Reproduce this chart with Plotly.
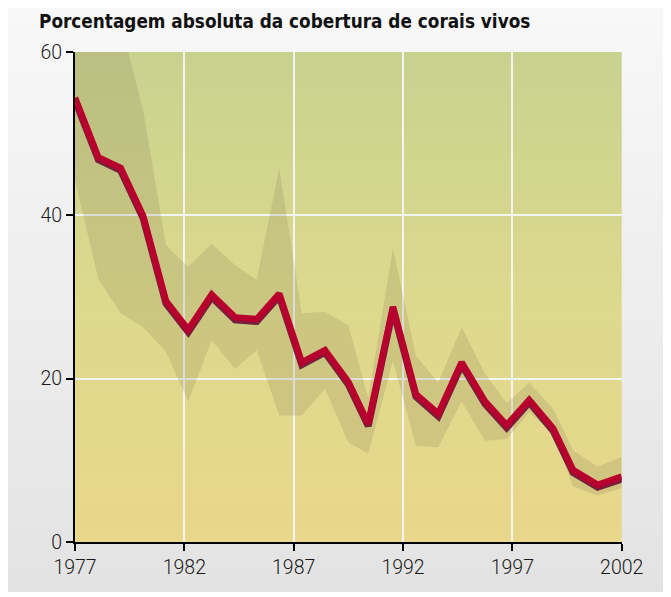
import plotly.graph_objects as go

# leituras aproximadas do gráfico original
anos = [1977.0, 1978.07, 1979.09, 1980.12, 1981.16, 1982.18, 1983.25, 1984.32,
        1985.31, 1986.34, 1987.37, 1988.43, 1989.5, 1990.41, 1991.54, 1992.59,
        1993.61, 1994.68, 1995.75, 1996.74, 1997.77, 1998.87, 1999.78, 2000.9, 2002.0]
cobertura = [54.4, 47.1, 45.8, 39.9, 29.5, 26.0, 30.3, 27.5, 27.3, 30.4, 22.0, 23.5,
             19.6, 14.5, 28.8, 18.1, 15.7, 22.0, 17.2, 14.3, 17.4, 13.9, 8.8, 7.0, 8.0]
limite_sup = [75.0, 68.0, 63.6, 52.8, 36.3, 33.7, 36.5, 33.9, 32.1, 45.8, 28.0, 28.2,
              26.5, 17.6, 36.0, 22.8, 19.5, 26.3, 20.6, 17.0, 19.5, 16.3, 11.2, 9.2, 10.4]
limite_inf = [44.3, 32.2, 28.0, 26.3, 23.3, 17.2, 24.7, 21.2, 23.5, 15.5, 15.5, 18.8,
              12.2, 10.8, 22.2, 11.8, 11.6, 17.2, 12.4, 12.6, 15.9, 13.3, 6.8, 5.7, 6.6]
ticks_x = [1977, 1982, 1987, 1992, 1997, 2002]
ticks_y = [0, 20, 40, 60]

# a página tem 8px de margem no body
W, H = 663, 584
x0, x1, y0, y1 = 67, 613.7, 44, 534

fig = go.Figure()

# fundo cinza e fundo do gráfico em degradê (eixo auxiliar em pixels)
fig.add_trace(go.Scatter(
    x=[0, W, W, 0, 0], y=[0, 0, H, H, 0], xaxis="x", yaxis="y",
    mode="lines", line=dict(width=0), fill="toself",
    fillgradient=dict(type="vertical", start=0, stop=H,
                      colorscale=[[0, "#f8f8f8"], [1, "#e3e3e3"]]),
    hoverinfo="skip", showlegend=False))
fig.add_trace(go.Scatter(
    x=[x0, x1, x1, x0, x0], y=[y0, y0, y1, y1, y0], xaxis="x", yaxis="y",
    mode="lines", line=dict(width=0), fill="toself",
    fillgradient=dict(type="vertical", start=y0, stop=y1,
                      colorscale=[[0, "#c8d28e"], [0.5, "#dcd98d"], [1, "#e9d78b"]]),
    hoverinfo="skip", showlegend=False))

# faixa de incerteza
fig.add_trace(go.Scatter(x=anos, y=limite_sup, xaxis="x2", yaxis="y2", mode="lines",
                         line=dict(width=0), hoverinfo="skip", showlegend=False))
fig.add_trace(go.Scatter(x=anos, y=limite_inf, xaxis="x2", yaxis="y2", mode="lines",
                         line=dict(width=0), fill="tonexty",
                         fillcolor="rgba(120,110,80,0.18)",
                         hoverinfo="skip", showlegend=False))

# sombra + linha vermelha
fig.add_trace(go.Scatter(x=anos, y=[v - 0.3 for v in cobertura], xaxis="x2", yaxis="y2",
                         mode="lines", line=dict(color="#74203a", width=7),
                         hoverinfo="skip", showlegend=False))
fig.add_trace(go.Scatter(x=anos, y=cobertura, xaxis="x2", yaxis="y2", mode="lines",
                         line=dict(color="#b8002e", width=6.5), showlegend=False))

fig.add_annotation(text="<b>Porcentagem absoluta da cobertura de corais vivos</b>",
                   xref="paper", yref="paper", x=29 / W, y=1 - 1 / H,
                   xanchor="left", yanchor="top", showarrow=False,
                   font=dict(family="DejaVu Sans Condensed", size=18.8, color="#111"))

eixo_fonte = dict(family="Roboto", size=19.5, color="#1a1a1a", weight=300)
fig.update_layout(
    width=W, height=H,
    margin=dict(l=0, r=0, t=0, b=0, autoexpand=False),
    paper_bgcolor="white", plot_bgcolor="rgba(0,0,0,0)",
    xaxis=dict(domain=[0, 1], range=[0, W], visible=False, fixedrange=True,
               automargin=False),
    yaxis=dict(domain=[0, 1], range=[H, 0], visible=False, fixedrange=True,
               automargin=False),
    xaxis2=dict(domain=[x0 / W, x1 / W], range=[1977, 2002], anchor="y2",
                automargin=False,
                tickvals=ticks_x, showline=True, linecolor="black", linewidth=2,
                ticks="outside", ticklen=7, tickwidth=2, tickcolor="black",
                showgrid=True, gridcolor="#f4f4f4", gridwidth=2, zeroline=False,
                tickfont=eixo_fonte),
    yaxis2=dict(domain=[1 - y1 / H, 1 - y0 / H], range=[0, 60], anchor="x2",
                automargin=False,
                tickvals=ticks_y, showline=True, linecolor="black", linewidth=2,
                ticks="outside", ticklen=7, tickwidth=2, tickcolor="black",
                showgrid=True, gridcolor="#f4f4f4", gridwidth=2, zeroline=False,
                tickfont=eixo_fonte),
)

fig.write_html("out.html")
